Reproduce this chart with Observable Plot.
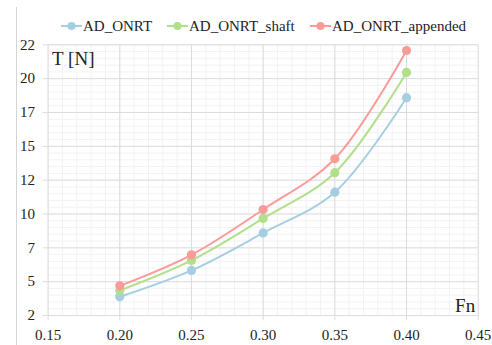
<!DOCTYPE html>
<html>
<head>
<meta charset="utf-8">
<script src="https://cdn.jsdelivr.net/npm/d3@7"></script>
<script src="https://cdn.jsdelivr.net/npm/@observablehq/plot@0.6"></script>
<style>
  html, body { margin: 0; padding: 0; background: #fff; }
  #wrap { position: relative; width: 492px; height: 345px; }
  #frame { position: absolute; left: 16px; top: 7px; bottom: 0; border-left: 1px solid #d4d4d4; }
  #legend { position: absolute; left: 0; top: 15px; }
  #chart { position: absolute; left: 0; top: 0; }
</style>
</head>
<body>
<div id="wrap">
  <div id="frame"></div>
  <div id="chart"></div>
  <svg id="legend" width="492" height="26"></svg>
</div>
<script>
const fn = [0.20, 0.25, 0.30, 0.35, 0.40];
const seriesNames = ["AD_ONRT", "AD_ONRT_shaft", "AD_ONRT_appended"];
const adOnrt = [3.38, 5.33, 8.10, 11.11, 18.09];
const adOnrtShaft = [3.85, 6.07, 9.17, 12.55, 19.96];
const adOnrtAppended = [4.19, 6.48, 9.83, 13.58, 21.58];
const seriesColors = ["#a6cee3", "#b2df8a", "#fb9a99"];

const xTicks = [0.15, 0.20, 0.25, 0.30, 0.35, 0.40, 0.45];
const xTickLabels = ["0.15", "0.20", "0.25", "0.30", "0.35", "0.40", "0.45"];
const yTicks = [2, 4.5, 7, 9.5, 12, 14.5, 17, 19.5, 22];
const yTickLabels = ["2", "5", "7", "10", "12", "15", "17", "20", "22"];

const seriesValues = [adOnrt, adOnrtShaft, adOnrtAppended];
const data = [];
seriesNames.forEach((s, k) => fn.forEach((x, i) => data.push({ series: s, x, y: seriesValues[k][i] })));

const xMinor = d3.range(0, 31).map(i => 0.15 + i * 0.01);
const yMinor = d3.range(0, 41).map(i => 2 + i * 0.5);
const xLab = new Map(xTicks.map((t, i) => [t, xTickLabels[i]]));
const yLab = new Map(yTicks.map((t, i) => [t, yTickLabels[i]]));
const FONT = "'Times New Roman', 'Liberation Serif', Tinos, serif";

const chart = Plot.plot({
  width: 492,
  height: 345,
  marginLeft: 47.6,
  marginRight: 14.3,
  marginTop: 44.3,
  marginBottom: 30,
  style: { background: "transparent", color: "#222" },
  x: { domain: [0.15, 0.45] },
  y: { domain: [2, 22] },
  color: { domain: seriesNames, range: seriesColors },
  marks: [
    Plot.gridX(xMinor, { stroke: "#f2f2f2", strokeOpacity: 1 }),
    Plot.gridY(yMinor, { stroke: "#f2f2f2", strokeOpacity: 1 }),
    Plot.gridX(xTicks, { stroke: "#dcdcdc", strokeOpacity: 1 }),
    Plot.gridY(yTicks, { stroke: "#dcdcdc", strokeOpacity: 1 }),
    Plot.axisX(xTicks, { tickFormat: d => xLab.get(d), tickSize: 5, tickPadding: 9, stroke: "#dcdcdc", fill: "#222", fontFamily: FONT, fontSize: 15, label: null }),
    Plot.axisY(yTicks, { tickFormat: d => yLab.get(d), tickSize: 5, tickPadding: 8, stroke: "#dcdcdc", fill: "#222", fontFamily: FONT, fontSize: 15, label: null }),
    Plot.line(data, { x: "x", y: "y", z: "series", stroke: "series", curve: "catmull-rom", strokeWidth: 2 }),
    Plot.dot(data, { x: "x", y: "y", fill: "series", r: 4.6 }),
    Plot.text(["T [N]"], { frameAnchor: "top-left", dx: 4, dy: 7, fontSize: 19, fontFamily: FONT, textAnchor: "start", lineAnchor: "top", fill: "#222" }),
    Plot.text(["Fn"], { frameAnchor: "bottom-right", dx: -3, dy: -4, fontSize: 19, fontFamily: FONT, textAnchor: "end", lineAnchor: "bottom", fill: "#222" })
  ]
});
document.getElementById("chart").appendChild(chart);

const legend = d3.select("#legend");
const lefts = [61, 167, 310];
seriesNames.forEach((s, i) => {
  const g = legend.append("g").attr("transform", `translate(${lefts[i]},11)`);
  g.append("line").attr("x1", 0).attr("x2", 21).attr("y1", 0).attr("y2", 0).attr("stroke", seriesColors[i]).attr("stroke-width", 2);
  g.append("circle").attr("cx", 10.5).attr("cy", 0).attr("r", 4).attr("fill", seriesColors[i]);
  g.append("text").attr("x", 22).attr("y", 5).attr("font-family", FONT).attr("font-size", 15).attr("fill", "#222").text(s);
});
</script>
</body>
</html>
